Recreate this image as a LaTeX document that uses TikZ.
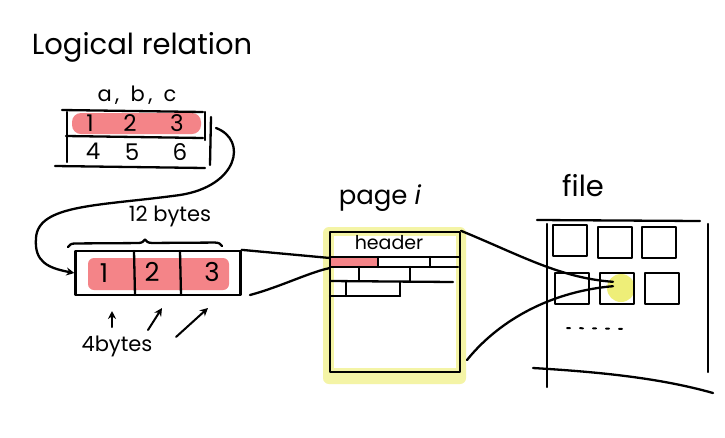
\documentclass[tikz,border=0pt]{standalone}
\usepackage{fontspec}
\setmainfont{Poppins}
\usetikzlibrary{arrows.meta,decorations.pathreplacing}
\definecolor{pinkhl}{RGB}{244,132,136}
\definecolor{yellowhl}{RGB}{244,244,166}
\definecolor{yellowdot}{RGB}{238,238,120}
\begin{document}
\begin{tikzpicture}[x=1pt,y=-1pt,
  ink/.style={line width=2.3pt,line cap=round,line join=round,draw=black},
  thinink/.style={line width=2pt,line cap=round,line join=round,draw=black},
  hand/.style={font=\fontsize{29}{31}\selectfont,inner sep=0pt},
  small/.style={font=\fontsize{21}{23}\selectfont,inner sep=0pt},
  cell/.style={font=\fontsize{23}{25}\selectfont,inner sep=0pt},
  tip/.style={-{Stealth[length=8pt,width=8pt]}}]
\useasboundingbox (0,0) rectangle (725,437);
\fill[white] (0,0) rectangle (725,437);

% ---------- logical relation ----------
\node[hand] (title) at (142,47) {Logical relation};
\node[small] (cols) at (137,95) {a\,,\ \ b\,,\ \ c};
\fill[pinkhl, rounded corners=9pt] (72,113) rectangle (201,134);
\node[minimum width=140pt,minimum height=55pt,inner sep=0pt] (tbl) at (135,138) {};
\draw[ink] (62,110) -- (203,112);
\draw[ink] (66,136) -- (203,138);
\draw[ink] (55,166) -- (205,168);
\draw[ink] (67,112) -- (67,162);
\draw[ink] (205,112) -- (205,140);
\draw[ink] (211,117) -- (210,165);
\node[cell] (v1) at (90,123) {1};
\node[cell] (v2) at (130,123) {2};
\node[cell] (v3) at (177,123) {3};
\node[cell] (v4) at (93,151) {4};
\node[cell] (v5) at (132,152) {5};
\node[cell] (v6) at (180,152) {6};
\coordinate (tblout) at (216,128);

% ---------- record ----------
\fill[pinkhl, rounded corners=6pt] (88,258) rectangle (229,290);
\node[ink, draw, minimum width=165pt, minimum height=44pt, inner sep=0pt] (rec) at (158,273) {};
\draw[ink] (134,251) -- (135,295);
\draw[ink] (180,251) -- (181,295);
\node[cell,font=\fontsize{26}{28}\selectfont] (r1) at (104,273) {1};
\node[cell,font=\fontsize{26}{28}\selectfont] (r2) at (152,272) {2};
\node[cell,font=\fontsize{26}{28}\selectfont] (r3) at (212,272) {3};
\node[small] (twelve) at (170,216) {12 bytes};
\draw[ink, decorate, decoration={brace, amplitude=7pt}] (68,247) -- (222,246);
\node[small] (four) at (117,346) {4bytes};
\coordinate (a1s) at (112,327); \coordinate (a1e) at (112,311);
\coordinate (a2s) at (148,330); \coordinate (a2e) at (162,308);
\coordinate (a3s) at (176,337); \coordinate (a3e) at (208,308);
\draw[thinink, tip] (a1s) -- (a1e);
\draw[thinink, tip] (a2s) -- (a2e);
\draw[thinink, tip] (a3s) -- (a3e);

% curved arrow from relation to record
\draw[ink, tip] (tblout) .. controls (248,140) and (238,186) .. (180,195)
  .. controls (100,206) and (38,204) .. (36,238)
  .. controls (34,262) and (48,268) .. (rec.west);

% ---------- page ----------
\node[hand,font=\fontsize{26}{28}\selectfont] (pagel) at (380,198) {page \textit{i}};
\fill[yellowhl, rounded corners=6pt] (323,227) rectangle (466,384);
\fill[white] (334,236) rectangle (456,368);
\node[ink, draw, minimum width=130pt, minimum height=140pt, inner sep=0pt] (page) at (395,302) {};
\node[small,font=\fontsize{19}{21}\selectfont] (hdr) at (389,243) {header};
\fill[pinkhl] (331,258) rectangle (377,266.5);
\draw[ink] (330,257) -- (460,257);
\draw[ink] (330,267) -- (458,267);
\draw[ink] (330,281) -- (453,282);
\draw[ink] (330,296) -- (400,296);
\draw[ink] (378,257) -- (378,267);
\draw[ink] (430,257) -- (430,267);
\draw[ink] (359,267) -- (359,281);
\draw[ink] (410,267) -- (410,281);
\draw[ink] (346,282) -- (346,296);
\draw[ink] (400,282) -- (400,296);

% record -> page
\coordinate (pin1) at (330,258);
\coordinate (pin2) at (330,268);
\coordinate (recout2) at (250,295);
\draw[ink] (rec.north east) -- (pin1);
\draw[ink] (recout2) .. controls (280,287) and (310,272) .. (pin2);

% ---------- file ----------
\node[hand] (filel) at (583,186) {file};
\fill[yellowdot] (621,288) circle (14pt);
\draw[ink] (537,220) -- (700,221);
\draw[ink] (547,224) -- (547,387);
\draw[ink] (708,224) -- (708,372);
\draw[ink] (533,368) .. controls (600,372) and (660,378) .. (713,393);
\foreach \x/\y/\n in {553/225/s1,598/227/s2,642/227/s3,555/273/s4,600/273/s5,645/273/s6}{
  \draw[thinink] (\x,\y) rectangle ++(34,31);
}
\draw[line width=2pt, dash pattern=on 3pt off 10pt, line cap=round] (567,328) -- (627,329);
\node[inner sep=0pt, minimum size=4pt] (slot) at (613,284) {};

% page -> file
\coordinate (pout2) at (467,360);
\draw[ink] (page.north east) .. controls (520,255) and (560,278) .. (slot.north);
\draw[ink] (pout2) .. controls (495,325) and (545,292) .. (slot.south);
\end{tikzpicture}
\end{document}
